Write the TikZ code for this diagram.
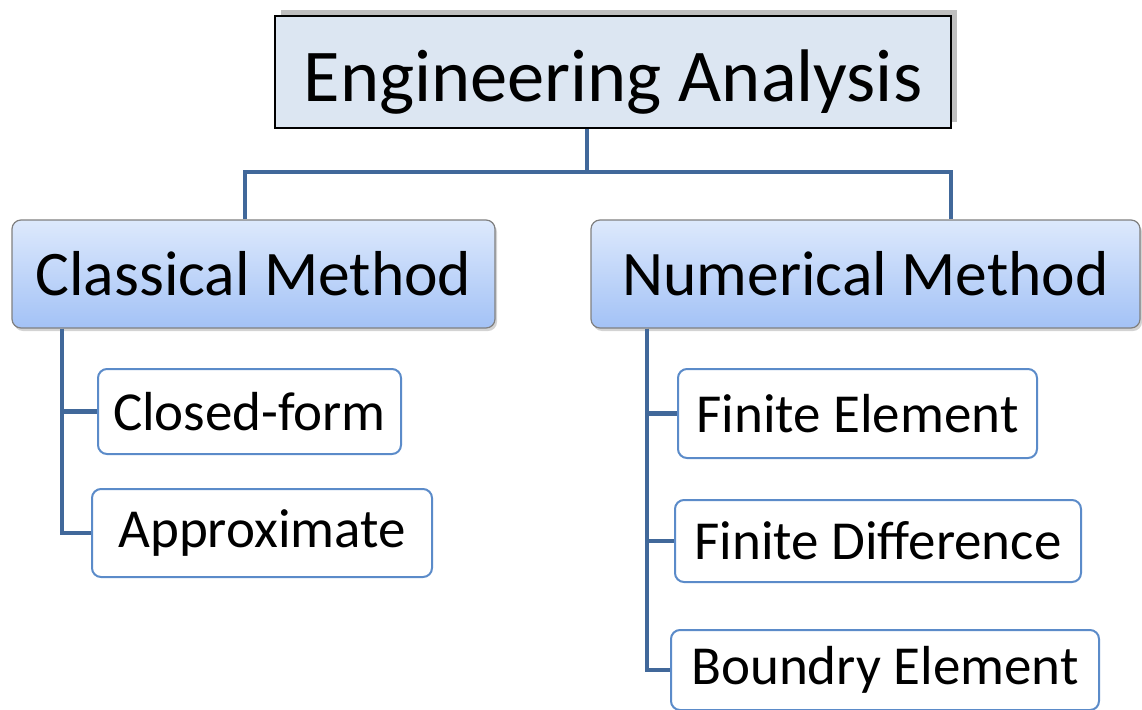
\documentclass[tikz,border=0pt]{standalone}
\usepackage{fontspec}
\setmainfont{Carlito}
\usetikzlibrary{shadows}
\definecolor{conncol}{HTML}{41689A}
\definecolor{topfill}{HTML}{DCE6F2}
\definecolor{midtop}{HTML}{DDE9FC}
\definecolor{midbot}{HTML}{A3C2F6}
\definecolor{leafline}{HTML}{5B8BC9}
\tikzset{
  topbox/.style={draw=black, line width=2pt, fill=topfill, inner sep=0pt,
    general shadow={fill=black!25, shadow xshift=6pt, shadow yshift=6pt},
    text height=58pt, text depth=0pt,
    font=\fontsize{74.5}{86}\selectfont},
  midbox/.style={draw=black!50, line width=1.2pt, rounded corners=9pt, inner sep=0pt,
    top color=midtop, bottom color=midbot,
    drop shadow={opacity=0.35, shadow xshift=2pt, shadow yshift=-3pt},
    font=\fontsize{63.5}{72}\selectfont},
  leafbox/.style={draw=leafline, line width=2pt, rounded corners=9pt, fill=white,
    inner sep=0pt, font=\fontsize{55}{62}\selectfont},
  conn/.style={draw=conncol, line width=4.5pt}
}
\begin{document}
\begin{tikzpicture}[x=1pt, y=-1pt]
\useasboundingbox (0,0) rectangle (1142,709);

% tree nodes
\node[topbox, minimum width=676pt, minimum height=112pt] (top) at (613,72) {Engineering Analysis};
\node[midbox, minimum width=483pt, minimum height=108pt] (cm) at (253.5,274) {Classical Method};
\node[midbox, minimum width=549pt, minimum height=108pt] (nm) at (865.5,274) {Numerical Method};

\node[leafbox, minimum width=303pt, minimum height=85pt] (cf) at (249.5,411.5) {Closed-form};
\node[leafbox, minimum width=340pt, minimum height=88pt] (ap) at (262,533) {Approximate};

\node[leafbox, minimum width=359pt, minimum height=89pt] (fe) at (857.5,413.5) {Finite Element};
\node[leafbox, minimum width=406pt, minimum height=82pt] (fd) at (878,541) {Finite Difference};
\node[leafbox, minimum width=428pt, minimum height=80pt] (be) at (885,670) {Boundry Element};

% connectors
\coordinate (bar) at (587,172);
\draw[conn] ([xshift=-26pt]top.south) -- (bar);
\draw[conn] ([xshift=-8.5pt]cm.north) |- (bar) -| ([xshift=85.5pt]nm.north);

\draw[conn] ([xshift=-191.5pt]cm.south) |- (cf.west);
\draw[conn] ([xshift=-191.5pt]cm.south) |- (ap.west);

\draw[conn] ([xshift=-218.5pt]nm.south) |- (fe.west);
\draw[conn] ([xshift=-218.5pt]nm.south) |- (fd.west);
\draw[conn] ([xshift=-218.5pt]nm.south) |- (be.west);
\end{tikzpicture}
\end{document}
